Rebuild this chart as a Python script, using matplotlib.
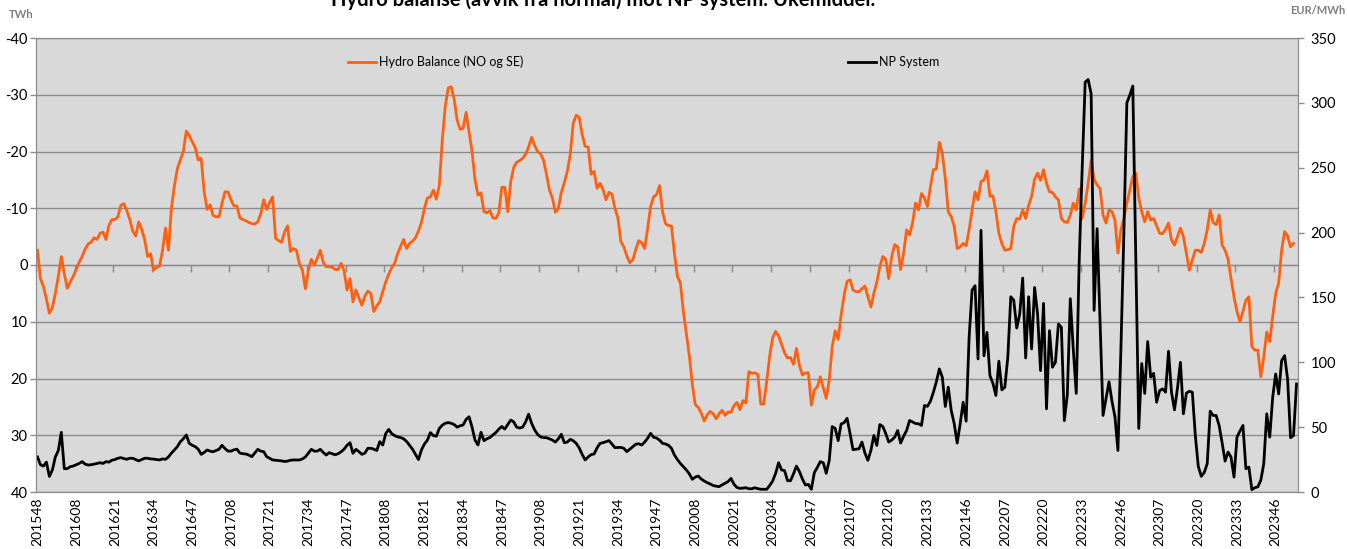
import datetime as dt
import numpy as np
import matplotlib.pyplot as plt
from matplotlib.lines import Line2D

plt.rcParams['font.family'] = ['Lato', 'DejaVu Sans']
plt.rcParams['axes.unicode_minus'] = False

# weekly averages, first week is 2015-W48
# hydro balance, TWh deviation from normal (left axis, reversed)
hydro_balance = [
    -2.6, 2.4, 3.8, 6.0, 8.5, 7.5, 5.0, 2.0, -1.5, 1.5, 4.1, 3.0, 2.0,
    0.8, -0.5, -1.5, -2.8, -3.7, -4.0, -4.8, -4.5, -5.6, -5.8, -4.5, -7.0, -8.0,
    -8.0, -8.5, -10.5, -10.8, -9.6, -8.0, -6.0, -5.1, -7.6, -6.3, -4.5, -1.5, -2.0,
    0.9, 0.4, 0.2, -2.5, -6.5, -2.6, -10.0, -14.0, -17.0, -18.5, -20.0, -23.6, -22.8,
    -21.7, -20.7, -18.5, -18.8, -12.9, -9.8, -10.6, -8.7, -8.5, -8.5, -10.9, -12.9, -12.9,
    -11.5, -10.4, -10.4, -8.3, -8.0, -7.8, -7.5, -7.3, -7.2, -7.6, -9.0, -11.5, -9.8,
    -11.0, -12.0, -4.7, -4.3, -4.0, -5.8, -6.9, -2.4, -2.9, -2.6, -0.2, 0.9, 4.2,
    1.0, -1.0, 0.0, -1.2, -2.6, -0.5, 0.3, 0.3, 0.4, 0.8, 0.8, -0.3, 1.0,
    4.4, 2.4, 6.5, 4.4, 5.8, 7.1, 5.5, 4.6, 5.0, 8.2, 7.2, 6.5, 4.7,
    3.0, 1.6, 0.5, -0.3, -2.0, -3.3, -4.5, -2.9, -3.8, -4.2, -4.8, -6.0, -7.5,
    -10.0, -11.8, -12.0, -13.2, -11.6, -14.0, -22.0, -28.0, -31.2, -31.4, -29.2, -25.5, -23.9,
    -24.1, -26.9, -23.5, -20.0, -15.0, -12.3, -12.7, -9.4, -9.2, -9.6, -8.3, -8.2, -9.2,
    -13.7, -13.7, -9.4, -14.7, -17.2, -18.1, -18.4, -18.8, -19.5, -20.8, -22.5, -21.1, -20.0,
    -19.6, -18.5, -16.0, -13.2, -11.8, -9.3, -10.0, -12.8, -14.5, -16.5, -19.5, -25.0, -26.4,
    -26.0, -23.0, -20.9, -20.8, -16.0, -16.5, -13.5, -14.4, -13.3, -11.5, -12.8, -12.5, -10.0,
    -8.3, -4.1, -3.2, -1.6, -0.4, -0.9, -2.7, -4.3, -3.9, -2.9, -6.5, -10.3, -12.0,
    -12.4, -14.0, -9.4, -7.3, -6.9, -6.9, -2.0, 2.0, 3.2, 8.2, 12.1, 16.0, 21.0,
    24.6, 25.1, 26.1, 27.5, 26.4, 25.8, 26.2, 27.1, 26.2, 25.6, 26.5, 25.9, 26.0,
    24.8, 24.2, 25.5, 23.9, 24.3, 18.8, 19.1, 19.0, 19.3, 24.5, 24.5, 20.5, 16.0,
    12.8, 11.7, 12.5, 14.0, 15.5, 16.4, 16.3, 17.5, 14.7, 17.7, 19.4, 19.0, 19.0,
    24.7, 22.0, 21.5, 19.7, 21.6, 23.5, 20.3, 14.4, 11.6, 13.1, 8.8, 5.3, 2.9,
    2.6, 4.4, 4.7, 4.7, 4.2, 3.7, 5.6, 7.4, 5.0, 3.0, 0.3, -1.5, -1.0,
    2.4, -1.5, -3.6, -3.2, 0.8, -2.1, -6.2, -5.3, -7.4, -10.9, -9.7, -12.6, -11.8,
    -10.3, -13.8, -16.8, -16.9, -21.6, -19.7, -15.3, -9.4, -8.5, -6.8, -2.9, -3.2, -3.8,
    -3.4, -6.2, -9.7, -12.9, -11.5, -14.7, -15.0, -16.6, -12.1, -12.2, -9.4, -5.6, -3.8,
    -2.6, -2.7, -2.9, -6.8, -8.2, -8.1, -9.7, -8.2, -10.5, -12.1, -15.1, -16.2, -14.9,
    -16.8, -14.4, -12.9, -12.8, -12.0, -11.5, -8.2, -7.6, -7.5, -8.8, -10.9, -9.7, -13.4,
    -8.2, -10.9, -14.4, -18.5, -15.1, -14.1, -13.5, -8.8, -7.4, -9.7, -9.4, -7.9, -2.1,
    -6.2, -8.2, -10.9, -13.2, -15.6, -16.2, -11.8, -9.4, -7.6, -9.4, -7.9, -8.2, -6.9,
    -5.6, -5.5, -6.3, -7.4, -4.4, -3.5, -5.0, -6.5, -5.0, -2.1, 0.9, -0.9, -2.6,
    -2.6, -2.2, -3.8, -6.2, -9.7, -7.5, -7.1, -8.8, -3.5, -2.6, -1.0, 2.4, 5.6,
    8.2, 10.0, 8.2, 6.2, 5.6, 14.4, 15.0, 15.0, 19.7, 16.2, 11.8, 13.5, 9.1,
    5.0, 3.2, -2.6, -5.9, -5.1, -3.2, -3.8, np.nan,
]

# Nord Pool system price, EUR/MWh (right axis)
np_system = [
    27, 21, 20, 23, 12, 17, 27, 32, 46, 18, 18, 19.5, 20,
    21, 22, 23.4, 21.5, 20.8, 21, 21.5, 22, 22.6, 22, 23.4, 23, 24.5,
    25, 26, 26.5, 25.8, 25.2, 26, 26, 25, 24, 25, 26, 26, 25.5,
    25.4, 25, 24.7, 25.5, 25.2, 27, 30, 32.4, 35, 38.8, 41, 44, 37.5,
    36, 35, 33, 29, 30.5, 32.4, 31.5, 31, 32, 33, 36, 33.5, 31.5,
    31.5, 32.5, 33, 30, 29.5, 29.3, 28.5, 27.2, 30, 32.9, 31.5, 31.1, 27.2,
    26, 24.7, 24.5, 24.2, 24, 23.5, 23.8, 24.5, 24.7, 24.7, 24.7, 25.5, 27,
    30, 32.9, 31.5, 31.5, 32.9, 30.5, 28.5, 30.3, 29.5, 28.7, 29.5, 31, 33,
    36, 38, 29.8, 32.9, 31.1, 29, 30, 33.7, 33.7, 33, 32, 38.8, 36.2,
    45, 48.3, 45, 43.5, 42.5, 42, 41, 39, 36, 33, 29, 25, 32.4,
    37, 40, 45.8, 43.5, 43, 49, 51.5, 53, 53.5, 53, 52, 50, 51,
    51.7, 56, 58, 50, 40, 36.2, 46, 39.6, 41, 42, 44, 45.8, 48.5,
    50.5, 48.5, 52, 55.5, 54, 50, 49.3, 50, 54, 60, 53, 48, 44.5,
    42.5, 41.9, 41.9, 41, 40, 38.5, 41, 44.5, 38, 38.5, 40.6, 39.5, 37.5,
    34, 29, 24.7, 27, 28.8, 29.3, 34, 37.5, 38, 38.8, 39.6, 37, 34.2,
    34.3, 34.4, 33.7, 31.1, 33, 35, 36.8, 37.2, 36.2, 38.5, 41.5, 45.2, 42.2,
    41.6, 40, 37.5, 37, 36, 33.7, 28.5, 25, 22, 19.5, 17, 14, 9.8,
    11.5, 12.3, 10, 8.5, 7.2, 6.2, 5, 4.5, 4.1, 5.5, 6.7, 8, 10.5,
    6, 3.5, 2.8, 3, 3.3, 2.5, 2.5, 3.3, 2.6, 2.1, 2.1, 2.1, 5,
    8.5, 14.4, 22.6, 17, 16.5, 8.7, 8.7, 14, 20, 15.7, 10, 5.4, 5.9,
    2.1, 14.9, 19, 23.4, 22.6, 14.4, 24.2, 50.4, 49.1, 39.6, 52.4, 53.5, 56.8,
    45, 32.6, 33, 33.3, 38.5, 30, 24.4, 32, 43.6, 35.9, 52, 50.5, 45,
    38.5, 40, 42.3, 47.4, 37.7, 43, 47.4, 55.1, 54, 52.8, 52.6, 51.3, 66.7,
    66, 70, 76.9, 85.1, 94.9, 88.5, 65.9, 80.8, 62.8, 52.6, 37.7, 52.6, 69.2,
    54.6, 119, 155.6, 159, 102.6, 201.7, 105, 123, 89.7, 83.8, 74.4, 100.8, 78.7,
    80.8, 103.8, 150.5, 147.9, 126.4, 137.2, 164.9, 103.3, 150.5, 110.3, 157.7, 137.2, 93.6,
    145.4, 64.1, 124.4, 96.2, 100, 129.5, 127, 55, 75, 149, 110, 76, 179,
    250, 316, 318, 307, 140, 203, 130, 59, 72, 85, 70, 58, 32,
    110, 200, 300, 306, 313, 181, 49, 99, 76, 116, 88.5, 91.5, 69.2,
    78.2, 79.5, 76.9, 108.5, 76.9, 63.3, 80, 100, 60.3, 76.2, 77.7, 76.9, 43.6,
    19.7, 12.1, 15, 21.8, 62.3, 59, 59, 51.3, 38, 23.8, 30.8, 26.9, 11.5,
    42.3, 47, 51.3, 17.9, 19.2, 1.8, 3.3, 4, 9, 21.8, 60.3, 42.3, 73.1,
    91, 75.6, 101.3, 105.1, 87.2, 41.8, 43.6, 83.3,
]

# ISO week labels (yyyyww), every 13th one is shown
monday = dt.date.fromisocalendar(2015, 48, 1)
week_labels = []
for k in range(len(np_system)):
    yr, wk, _ = (monday + dt.timedelta(weeks=k)).isocalendar()
    week_labels.append(f"{yr}{wk:02d}")
label_step = 13

orange = '#FF6010'
grid_gray = '#8C8C8C'

W, H = 1347, 549
fig = plt.figure(figsize=(W / 100, H / 100), dpi=100)
ax = fig.add_axes([36 / W, 1 - 492 / H, 1262 / W, 454 / H])
ax.set_facecolor('#D9D9D9')

x = np.arange(len(week_labels))
ax.plot(x, hydro_balance, color=orange, lw=2.0, solid_joinstyle='round')
ax.set_xlim(-0.5, len(x) - 0.5)
ax.set_ylim(40, -40)  # reversed axis
ax.set_yticks(range(-40, 41, 10))
ax.set_axisbelow(True)
ax.grid(axis='y', color=grid_gray, lw=1.0)
ax.set_xticks(x[::label_step], week_labels[::label_step], rotation=90)
ax.tick_params(axis='x', length=0, pad=4, labelsize=10)
ax.tick_params(axis='y', length=4, width=1, color=grid_gray, labelsize=10.5, pad=2)
for s in ax.spines.values():
    s.set_color(grid_gray)

# category axis crosses at 0: small tick marks between categories
cat_axis = ax.secondary_xaxis(0.5)
cat_axis.set_xticks(np.arange(-0.5, len(x), label_step), [])
cat_axis.tick_params(direction='in', length=5, width=1, color=grid_gray)
cat_axis.spines['bottom'].set_color(grid_gray)

ax2 = ax.twinx()
ax2.plot(x, np_system, color='black', lw=2.0, solid_joinstyle='round')
ax2.set_ylim(0, 350)
ax2.set_yticks(range(0, 351, 50))
ax2.tick_params(axis='y', length=4, width=1, color=grid_gray, labelsize=10.5, pad=5)
for s in ax2.spines.values():
    s.set_color(grid_gray)

# legend entries spread along the top of the plot
for name, col, px in [('Hydro Balance (NO og SE)', orange, 348),
                      ('NP System', 'black', 848)]:
    fig.legend(handles=[Line2D([], [], color=col, lw=2.0)], labels=[name],
               loc='center left', bbox_to_anchor=(px / W, 1 - 62 / H),
               frameon=False, fontsize=9, handlelength=2.2,
               handletextpad=0.25, borderpad=0, borderaxespad=0)

# title sits partly above the top edge, as in the source picture
fig.text(603 / W, 1 - 6 / H, 'Hydro balanse (avvik fra normal) mot NP system. Ukemiddel.',
         ha='center', va='baseline', fontsize=14.5, fontweight='bold')
fig.text(9 / W, 1 - 14 / H, 'TWh', color='#7F7F7F', fontsize=8,
         fontweight='bold', va='center')
fig.text(1345 / W, 1 - 10 / H, 'EUR/MWh', color='#7F7F7F', fontsize=8,
         fontweight='bold', va='center', ha='right')

fig.savefig('out.png', dpi=100)
